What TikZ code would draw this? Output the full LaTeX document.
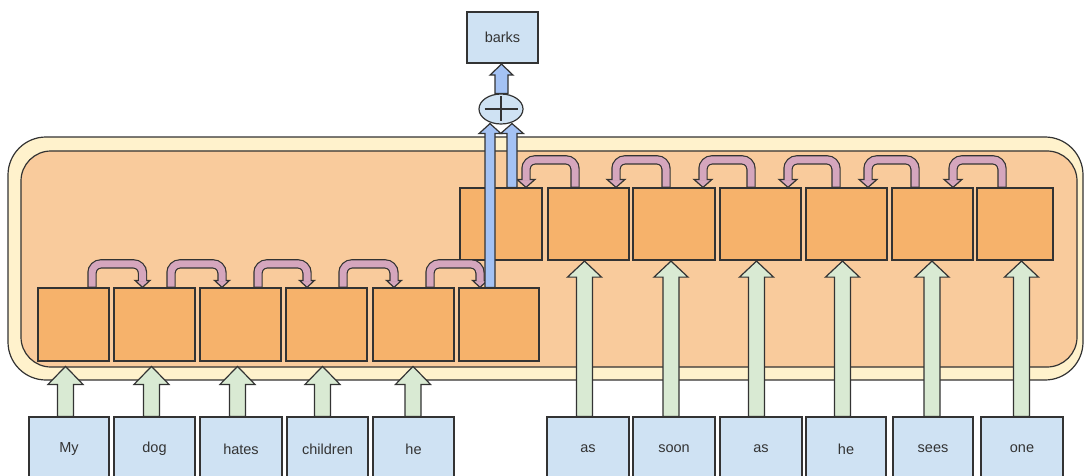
\documentclass[tikz,border=0pt]{standalone}
\usepackage{fontspec}
\setmainfont{Liberation Sans}
\usetikzlibrary{calc,shapes.geometric}
\definecolor{bd}{HTML}{333333}
\definecolor{outerc}{HTML}{FFF2CC}
\definecolor{innerc}{HTML}{F9CB9C}
\definecolor{cellc}{HTML}{F6B26B}
\definecolor{wordc}{HTML}{CFE2F3}
\definecolor{greenc}{HTML}{D9EAD3}
\definecolor{bluec}{HTML}{A4C2F4}
\definecolor{pinkc}{HTML}{D5A6BD}
\tikzset{
 cell/.style={draw=bd, fill=cellc, line width=1.2pt, inner sep=0pt},
 word/.style={draw=bd, fill=wordc, line width=1.2pt, inner sep=0pt, minimum height=64pt, font=\fontsize{14.5}{17}\selectfont, text=bd},
 garrow/.style={draw=bd, fill=greenc, line width=1.2pt},
 barrow/.style={draw=bd, fill=bluec, line width=1.2pt},
 phead/.style={draw=bd, fill=pinkc, line width=1.2pt},
}
% vertical fat arrow: #1 style, #2 from, #3 tip, #4 shaft half, #5 head half, #6 head length
\newcommand\vfat[6]{%
 \path[#1] let \p1=#2, \p2=#3 in
  (\x2-#4,\y1) -- (\x2-#4,\y2-#6) -- (\x2-#5,\y2-#6) -- (\x2,\y2) -- (\x2+#5,\y2-#6) -- (\x2+#4,\y2-#6) -- (\x2+#4,\y1) -- cycle;}
% bent fat arrow: #1 start, #2 tip, #3 rise, #4 head half width, #5 head length
\newcommand\bentarrow[5]{%
 \path[draw=bd, line width=9.4pt, rounded corners=9pt] let \p1=#1, \p2=#2 in
  (\x1,\y1) -- (\x1,\y1+#3) -- (\x2,\y1+#3) -- (\x2,\y2+#5);
 \path[phead] let \p2=#2 in (\x2-#4,\y2+#5) -- (\x2,\y2) -- (\x2+#4,\y2+#5) -- cycle;
 \path[draw=pinkc, line width=7pt, rounded corners=9pt] let \p1=#1, \p2=#2 in
  (\x1,\y1+0.7pt) -- (\x1,\y1+#3) -- (\x2,\y1+#3) -- (\x2,\y2+#5-1.3pt);}
\begin{document}
\begin{tikzpicture}[x=1pt,y=-1pt]
\useasboundingbox (0,0) rectangle (1084,476);
\clip (0,0) rectangle (1084,476);
% containers
\path[draw=bd, fill=outerc, line width=1.2pt, rounded corners=38pt] (8,137) rectangle (1083,380);
\path[draw=bd, fill=innerc, line width=1.2pt, rounded corners=30pt] (21,151) rectangle (1077,367);
% word boxes
\node[word, minimum width=80pt] (w1) at (69,449) {My};
\node[word, minimum width=81pt] (w2) at (154.5,449) {dog};
\node[word, minimum width=82pt] (w3) at (241,449) {hates};
\node[word, minimum width=81pt] (w4) at (327.5,449) {children};
\node[word, minimum width=81pt] (w5) at (413.5,449) {he};
\node[word, minimum width=82pt] (w6) at (588,449) {as};
\node[word, minimum width=82pt] (w7) at (674,449) {soon};
\node[word, minimum width=82pt] (w8) at (761,449) {as};
\node[word, minimum width=80pt] (w9) at (846,449) {he};
\node[word, minimum width=80pt] (w10) at (933,449) {sees};
\node[word, minimum width=82pt] (w11) at (1022,449) {one};
% lower cells
\node[cell, minimum width=71pt, minimum height=73pt] (l1) at (73.5,324.5) {};
\node[cell, minimum width=81pt, minimum height=73pt] (l2) at (154.5,324.5) {};
\node[cell, minimum width=81pt, minimum height=73pt] (l3) at (240.5,324.5) {};
\node[cell, minimum width=81pt, minimum height=73pt] (l4) at (326.5,324.5) {};
\node[cell, minimum width=81pt, minimum height=73pt] (l5) at (413.5,324.5) {};
\node[cell, minimum width=80pt, minimum height=73pt] (l6) at (499,324.5) {};
% upper cells
\node[cell, minimum width=82pt, minimum height=72pt] (u1) at (501,224) {};
\node[cell, minimum width=81pt, minimum height=72pt] (u2) at (588.5,224) {};
\node[cell, minimum width=82pt, minimum height=72pt] (u3) at (674,224) {};
\node[cell, minimum width=81pt, minimum height=72pt] (u4) at (760.5,224) {};
\node[cell, minimum width=81pt, minimum height=72pt] (u5) at (846.5,224) {};
\node[cell, minimum width=81pt, minimum height=72pt] (u6) at (932.5,224) {};
\node[cell, minimum width=76pt, minimum height=72pt] (u7) at (1015,224) {};
% green input arrows (lower row)
\vfat{garrow}{(w1.north)}{($(w1.north)+(-3.5,-50)$)}{8pt}{17.5pt}{18pt}
\vfat{garrow}{(w2.north)}{($(w2.north)+(-3,-50)$)}{8pt}{17.5pt}{18pt}
\vfat{garrow}{(w3.north)}{($(w3.north)+(-3.5,-50)$)}{8pt}{17.5pt}{18pt}
\vfat{garrow}{(w4.north)}{($(w4.north)+(-5,-50)$)}{8pt}{17.5pt}{18pt}
\vfat{garrow}{(w5.north)}{($(w5.north)+(-0.5,-50)$)}{8pt}{17.5pt}{18pt}
% green input arrows (upper row)
\vfat{garrow}{(w6.north)}{($(u2.south -| w6.north)+(-3.5,0.5)$)}{8pt}{17pt}{16pt}
\vfat{garrow}{(w7.north)}{($(u3.south -| w7.north)+(-3,0.5)$)}{8pt}{17pt}{16pt}
\vfat{garrow}{(w8.north)}{($(u4.south -| w8.north)+(-4.5,0.5)$)}{8pt}{17pt}{16pt}
\vfat{garrow}{(w9.north)}{($(u5.south -| w9.north)+(-3.5,0.5)$)}{8pt}{17pt}{16pt}
\vfat{garrow}{(w10.north)}{($(u6.south -| w10.north)+(-1,0.5)$)}{8pt}{17pt}{16pt}
\vfat{garrow}{(w11.north)}{($(u7.south -| w11.north)+(-0.5,0.5)$)}{8pt}{17pt}{16pt}
% recurrent arrows, lower row (left to right)
\bentarrow{($(l1.north)+(18.5,0)$)}{($(l2.north)+(-12,0)$)}{23.5pt}{7.5pt}{7pt}
\bentarrow{($(l2.north)+(16.5,0)$)}{($(l3.north)+(-18.5,0)$)}{23.5pt}{7.5pt}{7pt}
\bentarrow{($(l3.north)+(17.5,0)$)}{($(l4.north)+(-19.5,0)$)}{23.5pt}{7.5pt}{7pt}
\bentarrow{($(l4.north)+(16.5,0)$)}{($(l5.north)+(-19.5,0)$)}{23.5pt}{7.5pt}{7pt}
\bentarrow{($(l5.north)+(16.5,0)$)}{($(l6.north)+(-19,0)$)}{23.5pt}{7.5pt}{7pt}
% recurrent arrows, upper row (right to left)
\bentarrow{($(u2.north)+(-13.5,0)$)}{($(u1.north)+(25,0)$)}{27.5pt}{9pt}{8pt}
\bentarrow{($(u3.north)+(-8,0)$)}{($(u2.north)+(27.5,0)$)}{27.5pt}{9pt}{8pt}
\bentarrow{($(u4.north)+(-9.5,0)$)}{($(u3.north)+(29,0)$)}{27.5pt}{9pt}{8pt}
\bentarrow{($(u5.north)+(-10.5,0)$)}{($(u4.north)+(27.5,0)$)}{27.5pt}{9pt}{8pt}
\bentarrow{($(u6.north)+(-17.5,0)$)}{($(u5.north)+(21.5,0)$)}{27.5pt}{9pt}{8pt}
\bentarrow{($(u7.north)+(-13,0)$)}{($(u6.north)+(20.5,0)$)}{27.5pt}{9pt}{8pt}
% sum and output
\node[ellipse, draw=bd, fill=wordc, line width=1.2pt, minimum width=44pt, minimum height=30pt, inner sep=0pt] (sum) at (501,109) {};
\draw[bd, line width=1.2pt] ($(sum.center)+(-16.5,0)$) -- ($(sum.center)+(16.5,0)$);
\draw[bd, line width=1.2pt] ($(sum.center)+(0,-12.5)$) -- ($(sum.center)+(0,12.5)$);
\node[word, minimum width=71pt, minimum height=51pt] (out) at (502.5,37.5) {barks};
\vfat{barrow}{(l6.north)}{($(sum.south)+(-11,-1)$)}{5pt}{11pt}{10pt}
\vfat{barrow}{(u1.north)}{($(sum.south)+(11,-1)$)}{5pt}{11.5pt}{10pt}
\vfat{barrow}{(sum.north)}{($(out.south)+(-1,0.5)$)}{6.5pt}{11.5pt}{11pt}
\end{tikzpicture}
\end{document}
